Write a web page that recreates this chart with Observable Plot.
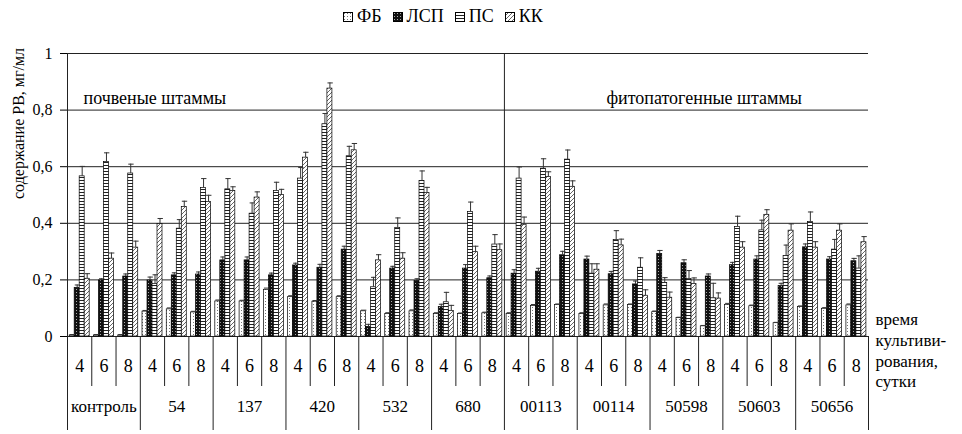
<!DOCTYPE html>
<html>
<head>
<meta charset="utf-8">
<script src="https://cdn.jsdelivr.net/npm/d3@7"></script>
<script src="https://cdn.jsdelivr.net/npm/@observablehq/plot@0.6"></script>
<style>
  body { margin: 0; background: #fff; }
  #wrap { position: relative; width: 962px; height: 434px; font-family: "Liberation Serif", "DejaVu Serif", serif; }
  #chart svg, #chart svg text { font-family: "Liberation Serif", "DejaVu Serif", serif !important; }
  #legend { position: absolute; left: 343px; top: 6px; display: flex; align-items: center; font-size: 18px; color: #000; }
  #legend .item { display: flex; align-items: center; margin-right: 11px; }
  #legend svg { margin-right: 4px; }
</style>
</head>
<body>
<svg width="0" height="0" style="position:absolute">
  <defs>
    <pattern id="pFB" patternUnits="userSpaceOnUse" width="3" height="3">
      <rect width="3" height="3" fill="#fff"/>
      <rect x="1" y="1" width="1" height="1" fill="#777"/>
    </pattern>
    <pattern id="pLSP" patternUnits="userSpaceOnUse" width="3" height="3">
      <rect width="3" height="3" fill="#111"/>
      <rect x="1" y="1" width="1" height="1" fill="#aaa"/>
    </pattern>
    <pattern id="pPS" patternUnits="userSpaceOnUse" width="4" height="3">
      <rect width="4" height="3" fill="#fff"/>
      <rect y="0" width="4" height="1" fill="#222"/>
    </pattern>
    <pattern id="pKK" patternUnits="userSpaceOnUse" width="4" height="4">
      <rect width="4" height="4" fill="#fff"/>
      <path d="M-1,5 L5,-1" stroke="#555" stroke-width="0.9"/>
    </pattern>
  </defs>
</svg>
<div id="wrap">
  <div id="chart"></div>
  <div id="legend"></div>
</div>
<script>
// ---- data ----
const strains = ["контроль","54","137","420","532","680","00113","00114","50598","50603","50656"];
const days = [4, 6, 8];
const seriesNames = ["ФБ", "ЛСП", "ПС", "КК"];
const yTicks = [0, 0.2, 0.4, 0.6, 0.8, 1];

const fb = [0.004,0.004,0.004, 0.088,0.096,0.085, 0.124,0.124,0.165, 0.139,0.123,0.139, 0.089,0.080,0.089, 0.080,0.080,0.082, 0.080,0.108,0.111, 0.080,0.110,0.111, 0.086,0.065,0.036, 0.112,0.107,0.047, 0.104,0.098,0.110];
const fbErr = [0.003,0.003,0.003, 0.004,0.005,0.004, 0.005,0.004,0.006, 0.005,0.004,0.005, 0.004,0.004,0.005, 0.004,0.003,0.004, 0.004,0.005,0.004, 0.004,0.005,0.004, 0.004,0.003,0.003, 0.005,0.004,0.003, 0.004,0.004,0.005];
const lsp = [0.172,0.198,0.212, 0.198,0.216,0.219, 0.269,0.269,0.216, 0.251,0.243,0.307, 0.034,0.240,0.196, 0.104,0.240,0.206, 0.222,0.229,0.287, 0.272,0.220,0.184, 0.292,0.259,0.212, 0.252,0.272,0.178, 0.315,0.272,0.266];
const lspErr = [0.010,0.006,0.009, 0.012,0.009,0.009, 0.012,0.012,0.008, 0.008,0.012,0.012, 0.009,0.008,0.008, 0.010,0.014,0.008, 0.014,0.012,0.014, 0.012,0.010,0.012, 0.012,0.012,0.009, 0.010,0.013,0.010, 0.012,0.010,0.010];
const ps = [0.566,0.617,0.576, 0.185,0.381,0.525, 0.520,0.434,0.514, 0.558,0.750,0.637, 0.174,0.384,0.550, 0.121,0.440,0.325, 0.558,0.593,0.625, 0.222,0.341,0.243, 0.189,0.203,0.135, 0.387,0.375,0.284, 0.405,0.307,0.240];
const psErr = [0.035,0.032,0.033, 0.033,0.032,0.033, 0.038,0.038,0.031, 0.039,0.038,0.035, 0.035,0.035,0.035, 0.035,0.035,0.035, 0.041,0.035,0.034, 0.035,0.033,0.035, 0.019,0.030,0.053, 0.038,0.036,0.039, 0.035,0.036,0.045];
const kk = [0.204,0.275,0.314, 0.397,0.458,0.475, 0.514,0.491,0.500, 0.632,0.876,0.658, 0.269,0.275,0.507, 0.090,0.298,0.305, 0.395,0.564,0.529, 0.236,0.322,0.144, 0.137,0.185,0.134, 0.314,0.430,0.374, 0.314,0.374,0.333];
const kkErr = [0.018,0.020,0.023, 0.020,0.020,0.024, 0.015,0.020,0.020, 0.019,0.020,0.024, 0.020,0.021,0.020, 0.020,0.021,0.022, 0.027,0.018,0.021, 0.021,0.022,0.021, 0.020,0.022,0.020, 0.021,0.018,0.024, 0.021,0.024,0.020];

const groupLabels = ["почвеные штаммы", "фитопатогенные штаммы"];
const xTitle = "время\nкультиви-\nрования,\nсутки";
const yTitle = "содержание РВ, мг/мл";

// ---- build table ----
const values = [fb, lsp, ps, kk];
const errs = [fbErr, lspErr, psErr, kkErr];
const fills = ["url(#pFB)", "url(#pLSP)", "url(#pPS)", "url(#pKK)"];
const groups = strains.flatMap((s, si) => days.map((d, di) => ({strain: s, day: d, gi: si * days.length + di})));
const rows = seriesNames.flatMap((name, k) => groups.map((g, j) => ({...g, series: name, k, value: values[k][j], err: errs[k][j]})));
const nGroups = groups.length;
const dividerAt = strains.indexOf("00113") * days.length;

// layout constants (in group-width units)
const OFF = 0.09, BW = 0.206, CAP = 0.11;
const bx1 = d => d.gi + OFF + d.k * BW;
const bx2 = d => d.gi + OFF + (d.k + 1) * BW;
const bxc = d => d.gi + OFF + (d.k + 0.5) * BW;

const fmt = v => (v === 0 || v === 1) ? String(v) : String(v).replace(".", ",");
const font = "'Liberation Serif', 'DejaVu Serif', serif";

const barMarks = seriesNames.map((name, k) =>
  Plot.rectY(rows.filter(d => d.k === k), {x1: bx1, x2: bx2, y1: () => 0, y2: "value", fill: fills[k], stroke: "#000", strokeWidth: 0.7})
);

const chart = Plot.plot({
  width: 962, height: 434,
  marginLeft: 67, marginRight: 94, marginTop: 53, marginBottom: 98,
  style: {fontFamily: font, fontSize: "16px", background: "#fff", color: "#000"},
  x: {type: "linear", domain: [0, nGroups], axis: null},
  y: {domain: [0, 1], ticks: yTicks, tickFormat: fmt, tickSize: 7, tickPadding: 8, label: null},
  marks: [
    Plot.ruleY(yTicks, {stroke: "#222", strokeWidth: 1}),
    Plot.ruleX([0, dividerAt], {y1: () => 0, y2: () => 1, stroke: "#222", strokeWidth: 1}),
    ...barMarks,
    Plot.ruleX(rows.filter(d => d.k > 0), {x: bxc, y1: "value", y2: d => d.value + d.err, stroke: "#333", strokeWidth: 1}),
    Plot.ruleY(rows, {y: d => d.value + d.err, x1: d => bxc(d) - CAP + 0.03, x2: d => bxc(d) + CAP + 0.03, stroke: "#333", strokeWidth: 1}),
    // table below axis
    Plot.ruleX(d3.range(0, nGroups + 1).filter(i => i % days.length !== 0), {x: d => d, stroke: "#222", strokeWidth: 1, insetTop: 283, insetBottom: -50}),
    Plot.ruleX(d3.range(0, nGroups + 1, days.length), {x: d => d, stroke: "#222", strokeWidth: 1, insetTop: 283, insetBottom: -94}),
    Plot.text(groups, {x: d => d.gi + 0.5, y: () => 0, text: d => String(d.day), dy: 30, fontSize: 18, fontFamily: font}),
    Plot.text(strains, {x: (d, i) => i * days.length + days.length / 2, y: () => 0, text: d => d, dy: 70, fontSize: 17, fontFamily: font}),
    Plot.text([xTitle], {x: () => nGroups, y: () => 0, text: d => d, dx: 7, dy: -26, textAnchor: "start", lineAnchor: "top", lineHeight: 1.22, fontSize: 17, fontFamily: font}),
    // annotations
    Plot.text([groupLabels[0]], {x: () => 0, y: () => 1, text: d => d, dx: 16, dy: 45, textAnchor: "start", fontSize: 18, fontFamily: font}),
    Plot.text([groupLabels[1]], {x: () => dividerAt, y: () => 1, text: d => d, dx: 102, dy: 45, textAnchor: "start", fontSize: 18, fontFamily: font}),
    Plot.text([yTitle], {frameAnchor: "left", text: d => d, rotate: -90, dx: -49, dy: 4, fontSize: 16, fontFamily: font})
  ]
});
document.getElementById("chart").appendChild(chart);

// legend
const legend = document.getElementById("legend");
seriesNames.forEach((name, k) => {
  const item = document.createElement("span");
  item.className = "item";
  item.innerHTML = `<svg width="10" height="10"><rect x="0.5" y="0.5" width="9" height="9" fill="${fills[k]}" stroke="#000" stroke-width="1"/></svg><span>${name}</span>`;
  legend.appendChild(item);
});
</script>
</body>
</html>
